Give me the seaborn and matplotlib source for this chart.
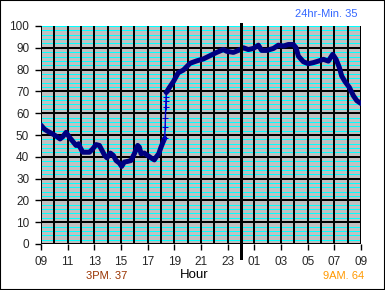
import matplotlib
matplotlib.use("Agg")
import matplotlib.pyplot as plt
import seaborn as sns
import pandas as pd
from matplotlib.patches import Rectangle

# hours since 09:00 and temperature readings
hours_before = [0.0, 0.25, 0.5, 0.75, 1.0, 1.25, 1.43, 1.63, 1.88, 2.13, 2.38, 2.63, 2.83,
                2.93, 3.13, 3.38, 3.63, 3.88, 4.13, 4.38, 4.58, 4.78, 4.95, 5.2, 5.43,
                5.63, 5.88, 6.05, 6.25, 6.5, 6.75, 7.0, 7.25, 7.38, 7.5, 7.75, 8.0,
                8.25, 8.5, 8.63, 8.83, 9.0, 9.18, 9.28]
temp_before = [54.5, 52.7, 51.7, 50.9, 50.0, 49.0, 48.2, 49.2, 51.2, 49.0, 47.1, 45.2, 46.0,
               44.4, 42.1, 42.1, 42.1, 43.6, 45.6, 45.2, 42.9, 40.6, 39.5, 41.7, 40.6,
               38.3, 37.1, 35.6, 37.6, 37.9, 38.3, 41.4, 45.2, 44.4, 41.4, 41.7, 40.6,
               39.5, 38.6, 39.8, 41.4, 44.4, 47.1, 48.5]
hours_jump = [9.28, 9.31, 9.33, 9.35, 9.37, 9.38, 9.40]
temp_jump = [48.5, 53.8, 57.8, 63.0, 65.5, 67.5, 69.5]
hours_after = [9.40, 9.6, 9.93, 10.3, 10.68, 11.18, 11.68, 12.18, 12.68, 13.18, 13.68, 13.93,
               14.43, 14.8, 15.18, 15.55, 15.93, 16.3, 16.55, 16.93, 17.43, 17.8, 18.18,
               18.55, 18.93, 19.13, 19.3, 19.68, 20.05, 20.43, 20.8, 21.18, 21.55, 21.88,
               22.13, 22.38, 22.55, 22.8, 23.13, 23.43, 23.68, 23.98]
temp_after = [69.5, 71.5, 74.5, 78.6, 79.8, 82.9, 84.0, 84.9, 86.4, 87.9, 89.2, 88.4,
              87.9, 88.8, 90.0, 89.2, 89.7, 91.2, 88.8, 88.8, 89.7, 91.2, 90.8,
              91.5, 91.5, 90.0, 86.2, 83.6, 82.7, 83.2, 83.9, 84.7, 83.9, 87.0,
              84.7, 80.9, 77.1, 74.5, 71.8, 68.0, 65.8, 64.5]

tick_pos = [0, 2, 4, 6, 8, 10, 12, 14, 16, 18, 20, 22, 24]
tick_labels = ["09", "11", "13", "15", "17", "19", "21", "23", "01", "03", "05", "07", "09"]
y_ticks = [0, 10, 20, 30, 40, 50, 60, 70, 80, 90, 100]

sns.set_style("white")
plt.rcParams['font.family'] = ['Liberation Sans', 'DejaVu Sans']

fig = plt.figure(figsize=(3.85, 2.9), dpi=100)
ax = fig.add_axes([41/385, 46/290, 320/385, 218/290])
ax.set_facecolor("#c0c0c0")

# minor cyan lines every 2 units
for v in range(2, 101, 2):
    if v % 10 != 0 or v == 100:
        ax.axhline(v, color="#00ffff", lw=0.5, zorder=1, antialiased=False)
# black major lines
for v in y_ticks[:-1]:
    ax.axhline(v, color="black", lw=1.2, zorder=2, antialiased=False)
for h in range(0, 25):
    ax.axvline(h, color="black", lw=1.2, zorder=2, antialiased=False)

navy = "#000080"
df_b = pd.DataFrame({"h": hours_before, "t": temp_before})
df_j = pd.DataFrame({"h": hours_jump, "t": temp_jump})
df_a = pd.DataFrame({"h": hours_after, "t": temp_after})
sns.lineplot(data=df_b, x="h", y="t", ax=ax, color=navy, lw=3.6, zorder=5, sort=False)
sns.lineplot(data=df_j, x="h", y="t", ax=ax, color="#0000cc", lw=1, marker="+",
             markersize=5, markeredgecolor="#0000cc", zorder=5, sort=False)
sns.lineplot(data=df_a, x="h", y="t", ax=ax, color=navy, lw=3.6, zorder=5, sort=False)

# midnight line
ax.axvline(15, ymin=-0.064, ymax=1.01, color="black", lw=2.0, zorder=6, clip_on=False,
           antialiased=False)

ax.set_xlim(0, 24)
ax.set_ylim(0, 100)
ax.set_xticks(tick_pos)
ax.set_xticklabels(tick_labels)
ax.set_yticks(y_ticks)
ax.tick_params(axis="both", which="major", direction="out", length=4.5, width=1,
               color="black", labelsize=8.5, pad=4, bottom=True, left=True)
for s in ax.spines.values():
    s.set_visible(False)
ax.set_xlabel("")
ax.set_ylabel("")

fig.text(194/385, 1 - 275/290, "Hour", ha="center", va="center", fontsize=9.5, color="black")
fig.text(107/385, 1 - 276/290, "3PM. 37", ha="center", va="center", fontsize=8, color="#993300")
fig.text(344/385, 1 - 276/290, "9AM. 64", ha="center", va="center", fontsize=8, color="#ff9900")
fig.text(326/385, 1 - 14/290, "24hr-Min. 35", ha="center", va="center", fontsize=8, color="#3366ff")

fig.patches.append(Rectangle((0, 0), 1, 1, transform=fig.transFigure, fill=False,
                             edgecolor="black", lw=1.5))

fig.savefig("out.png", dpi=100)
